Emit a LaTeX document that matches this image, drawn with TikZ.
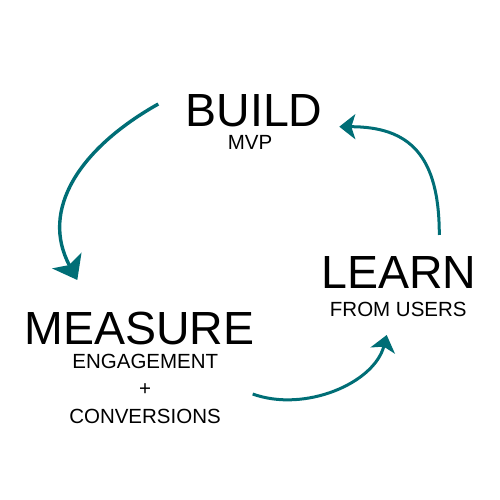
\documentclass[tikz,border=0pt]{standalone}
\usepackage{fontspec}
\setmainfont{Liberation Sans}
\usetikzlibrary{arrows.meta}
\definecolor{teal}{RGB}{0,110,118}
\tikzset{
  big/.style={anchor=base, inner sep=0pt, font=\fontsize{46.5}{54}\selectfont},
  small/.style={anchor=base, inner sep=0pt, font=\fontsize{20.5}{24}\selectfont},
  cyc/.style={draw=teal, line width=3pt},
  bigtip/.style={-{Stealth[length=22pt,width=33pt,inset=5pt]}},
  smalltip/.style={-{Stealth[length=16pt,width=25pt,inset=4pt]}}
}
\begin{document}
\begin{tikzpicture}[x=1pt,y=1pt]
\useasboundingbox (0,0) rectangle (500,500);
\node[big] (build) at (254,373.3) {BUILD};
\node[small] (mvp) at (250,350) {MVP};
\node[big] (learn) at (399,211.5) {LEARN};
\node[small] (fromusers) at (398.3,183.3) {FROM USERS};
\node[big] (measure) at (139.5,155) {MEASURE};
\node[small] (engagement) at (145.3,131.7) {ENGAGEMENT};
\node[anchor=center, inner sep=0pt, font=\fontsize{20.5}{24}\selectfont] (plus) at (145,110) {+};
\node[small] (conversions) at (145,76.7) {CONVERSIONS};
\coordinate (a1s) at (158.3,396);
\coordinate (a1e) at (77.3,220);
\coordinate (a2s) at (439.3,265);
\coordinate (a2e) at (339.3,373.3);
\coordinate (a3s) at (252.7,106);
\coordinate (a3e) at (386.7,165);
\draw[cyc, line width=3.4pt, bigtip] (a1s) .. controls (80,352) and (39.4,290.4) .. (a1e);
\draw[cyc, smalltip] (a2s) .. controls (439.3,345) and (409.3,373.3) .. (a2e);
\draw[cyc, smalltip] (a3s) .. controls (304.4,87.2) and (374.3,116.5) .. (a3e);
\end{tikzpicture}
\end{document}
